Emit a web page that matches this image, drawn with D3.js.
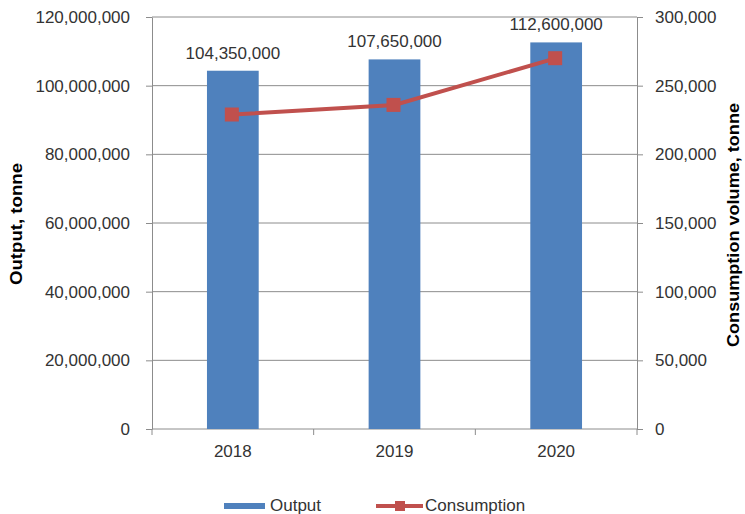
<!DOCTYPE html>
<html>
<head>
<meta charset="utf-8">
<script src="https://cdn.jsdelivr.net/npm/d3@7"></script>
<style>
  html, body { margin: 0; padding: 0; background: #fff; }
  svg { display: block; font-family: "Liberation Sans", Arial, sans-serif; }
</style>
</head>
<body>
<svg id="chart" width="745" height="514"></svg>
<script>
// Annual figures
const years = ["2018", "2019", "2020"];
const output = [104350000, 107650000, 112600000];      // tonne
const consumption = [229000, 236000, 270000];          // tonne
const leftTicks = [0, 20000000, 40000000, 60000000, 80000000, 100000000, 120000000];
const rightTicks = [0, 50000, 100000, 150000, 200000, 250000, 300000];

const svg = d3.select("#chart");
const plot = { left: 152, right: 637, top: 17, bottom: 429 };

const barColor = "#4F81BD";
const lineColor = "#C0504D";
const axisColor = "#8C8C8C";
const textColor = "#333333";
const fontSize = 17;
const fmt = d3.format(",");

const x = d3.scaleBand().domain(years)
  .range([plot.left, plot.right])
  .paddingInner(0.68).paddingOuter(0.34);
const yL = d3.scaleLinear().domain([0, 120000000]).range([plot.bottom, plot.top]);
const yR = d3.scaleLinear().domain([0, 300000]).range([plot.bottom, plot.top]);

// Horizontal gridlines
svg.append("g").selectAll("line").data(leftTicks.slice(1)).join("line")
  .attr("x1", plot.left).attr("x2", plot.right)
  .attr("y1", d => yL(d)).attr("y2", d => yL(d))
  .attr("stroke", axisColor).attr("stroke-width", 1);

// Left axis
const gL = svg.append("g").attr("transform", `translate(${plot.left},0)`)
  .call(d3.axisLeft(yL).tickValues(leftTicks).tickFormat(fmt).tickSizeInner(6).tickSizeOuter(0).tickPadding(16));
// Right axis
const gR = svg.append("g").attr("transform", `translate(${plot.right},0)`)
  .call(d3.axisRight(yR).tickValues(rightTicks).tickFormat(fmt).tickSizeInner(6).tickSizeOuter(0).tickPadding(12));
[gL, gR].forEach(g => {
  g.select(".domain").attr("stroke", axisColor);
  g.selectAll(".tick line").attr("stroke", axisColor);
  g.selectAll(".tick text").attr("fill", textColor).attr("font-size", fontSize)
    .attr("font-family", "'Liberation Sans', Arial, sans-serif");
});

// Bottom axis: line with ticks at category boundaries
const gB = svg.append("g");
gB.append("line").attr("x1", plot.left).attr("x2", plot.right + 1)
  .attr("y1", plot.bottom).attr("y2", plot.bottom).attr("stroke", axisColor);
const bounds = d3.range(years.length + 1).map(i => x.range()[0] + i * x.step());
gB.selectAll(".bt").data(bounds).join("line").attr("class", "bt")
  .attr("x1", d => d).attr("x2", d => d)
  .attr("y1", plot.bottom).attr("y2", plot.bottom + 6).attr("stroke", axisColor);
gB.selectAll("text").data(years).join("text")
  .attr("x", d => x(d) + x.bandwidth() / 2).attr("y", 457)
  .attr("text-anchor", "middle").attr("font-size", fontSize).attr("fill", textColor)
  .text(d => d);

// Bars
svg.append("g").selectAll("rect").data(years).join("rect")
  .attr("x", d => x(d)).attr("width", x.bandwidth())
  .attr("y", (d, i) => yL(output[i]))
  .attr("height", (d, i) => plot.bottom - yL(output[i]))
  .attr("fill", barColor);

// Bar value labels
svg.append("g").selectAll("text").data(years).join("text")
  .attr("x", d => x(d) + x.bandwidth() / 2)
  .attr("y", (d, i) => yL(output[i]) - 12)
  .attr("text-anchor", "middle").attr("font-size", fontSize).attr("fill", textColor)
  .text((d, i) => fmt(output[i]));

// Consumption line
const cx = d => x(d) + x.bandwidth() / 2;
const line = d3.line().x((d, i) => cx(years[i])).y(d => yR(d));
svg.append("path").datum(consumption)
  .attr("d", line).attr("fill", "none")
  .attr("stroke", lineColor).attr("stroke-width", 4);
const ms = 14;
svg.append("g").selectAll("rect").data(consumption).join("rect")
  .attr("x", (d, i) => cx(years[i]) - ms / 2 - 1)
  .attr("y", d => yR(d) - ms / 2)
  .attr("width", ms).attr("height", ms)
  .attr("fill", lineColor);

// Axis titles
svg.append("text")
  .attr("transform", "translate(22,224) rotate(-90)")
  .attr("text-anchor", "middle").attr("font-size", 16.5).attr("font-weight", "bold")
  .attr("textLength", 122).attr("lengthAdjust", "spacingAndGlyphs").attr("fill", "#000")
  .text("Output, tonne");
svg.append("text")
  .attr("transform", "translate(739,225) rotate(-90)")
  .attr("text-anchor", "middle").attr("font-size", 16.5).attr("font-weight", "bold")
  .attr("textLength", 244).attr("lengthAdjust", "spacingAndGlyphs").attr("fill", "#000")
  .text("Consumption volume, tonne");

// Legend
const lg = svg.append("g");
lg.append("rect").attr("x", 224).attr("y", 503).attr("width", 41).attr("height", 6).attr("fill", barColor);
lg.append("text").attr("x", 270).attr("y", 511).attr("font-size", fontSize).attr("fill", textColor).text("Output");
lg.append("line").attr("x1", 376).attr("x2", 423).attr("y1", 506).attr("y2", 506)
  .attr("stroke", lineColor).attr("stroke-width", 4);
lg.append("rect").attr("x", 395).attr("y", 501).attr("width", 10).attr("height", 10).attr("fill", lineColor);
lg.append("text").attr("x", 425).attr("y", 511).attr("font-size", fontSize).attr("fill", textColor).text("Consumption");
</script>
</body>
</html>
